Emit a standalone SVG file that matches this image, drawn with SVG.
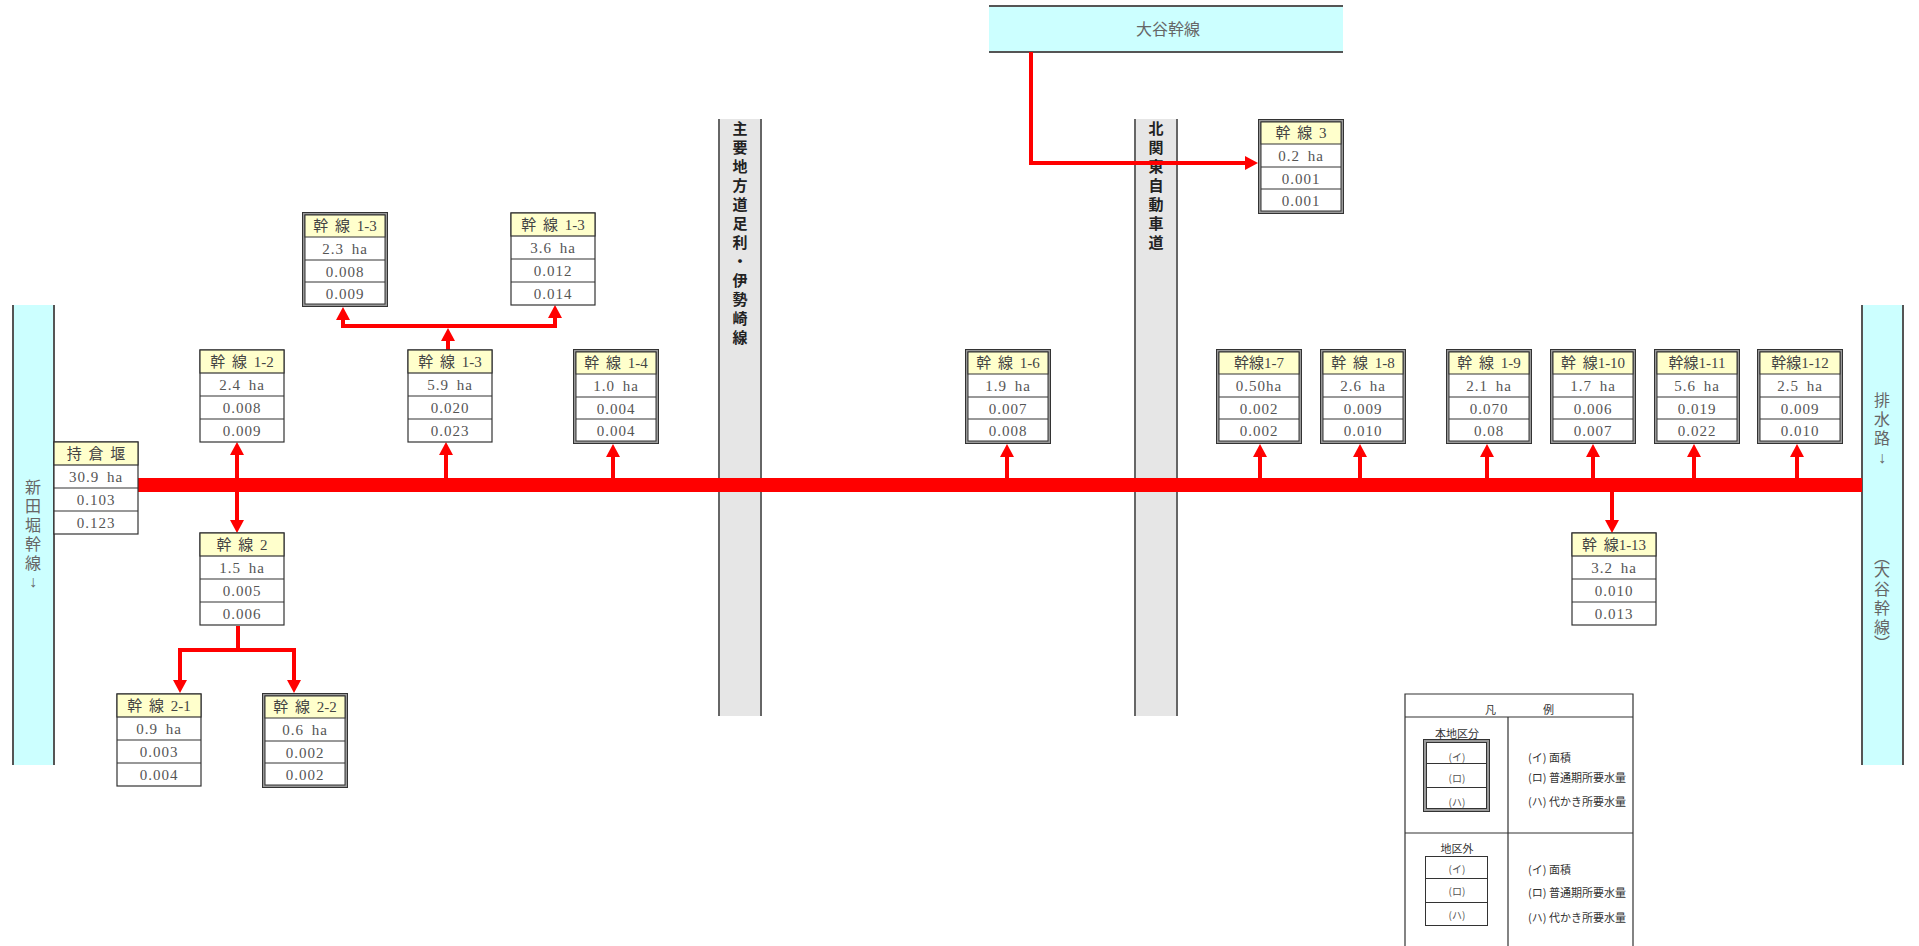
<svg xmlns="http://www.w3.org/2000/svg" xmlns:xlink="http://www.w3.org/1999/xlink" width="1919" height="946" viewBox="0 0 1919 946">
<style>
.hd{font-family:"Liberation Serif","Noto Sans CJK JP",serif;font-size:15px;fill:#444;text-anchor:middle;word-spacing:3px}
.vl{font-family:"Liberation Serif","Noto Sans CJK JP",serif;font-size:15px;fill:#555;text-anchor:middle;letter-spacing:1px;word-spacing:3px}
.ch{font-family:"Liberation Serif","Noto Sans CJK JP",serif;font-size:16px;fill:#666;text-anchor:middle}
.rd{font-family:"Noto Sans CJK JP",sans-serif;font-size:15px;font-weight:bold;fill:#222;text-anchor:middle}
.lg{font-family:"Noto Sans CJK JP",sans-serif;font-size:11px;fill:#333}
.lgc{font-family:"Noto Sans CJK JP",sans-serif;font-size:10px;fill:#555;text-anchor:middle}
.con{fill:none;stroke:#ff0000;stroke-width:4}
.arr{marker-end:url(#ah)}
</style>
<defs>
<marker id="ah" markerUnits="userSpaceOnUse" markerWidth="14" markerHeight="14" refX="3" refY="7" orient="auto">
<path d="M0,0 L13,7 L0,14 z" fill="#ff0000"/>
</marker>
<g id="sbox">
<rect x="0" y="0" width="84" height="92" fill="#fff" stroke="#333" stroke-width="1.2"/>
<rect x="0" y="0" width="84" height="23" fill="#ffffcc" stroke="#333" stroke-width="1.2"/>
<path d="M0 46H84M0 69H84" stroke="#333" stroke-width="1.2"/>
</g>
<g id="dbox">
<rect x="0.5" y="0.5" width="85" height="94" fill="#999" stroke="#333"/>
<rect x="3" y="3" width="80" height="89" fill="#fff" stroke="#333"/>
<rect x="3" y="3" width="80" height="22" fill="#ffffcc" stroke="#333"/>
<path d="M3 48H83M3 70H83" stroke="#333"/>
</g>
</defs>
<rect width="1919" height="946" fill="#fff"/>

<!-- channels -->
<g id="ch-left">
<rect x="13" y="305" width="41" height="460" fill="#ccffff"/>
<path d="M13 305V765M54 305V765" stroke="#555" stroke-width="2"/>
<text class="ch" x="33 33 33 33 33 33" y="493 512 531 550 569 587">新田堀幹線↓</text>
</g>
<g id="ch-right">
<rect x="1862" y="305" width="41" height="460" fill="#ccffff"/>
<path d="M1862 305V765M1903 305V765" stroke="#555" stroke-width="2"/>
<text class="ch" x="1882 1882 1882 1882" y="406 425 444 463">排水路↓</text>
<text class="ch" x="1882 1882 1882 1882 1882 1882" y="563 576 595 614 633 649">︵大谷幹線︶</text>
</g>
<g id="ch-top">
<rect x="989" y="6" width="354" height="46" fill="#ccffff"/>
<path d="M989 6H1343M989 52H1343" stroke="#555" stroke-width="2"/>
<text class="ch" x="1168" y="35" fill="#555">大谷幹線</text>
</g>

<!-- roads -->
<g id="road-1">
<rect x="719" y="119" width="42" height="597" fill="#e6e6e6"/>
<path d="M719 119V716M761 119V716" stroke="#666" stroke-width="2"/>
<text class="rd" x="740 740 740 740 740 740 740 740 740 740 740 740" y="134 153 172 191 210 229 248 267 286 305 324 343">主要地方道足利・伊勢崎線</text>
</g>
<g id="road-2">
<rect x="1135" y="119" width="42" height="597" fill="#e6e6e6"/>
<path d="M1135 119V716M1177 119V716" stroke="#666" stroke-width="2"/>
<text class="rd" x="1156 1156 1156 1156 1156 1156 1156" y="134 153 172 191 210 229 248">北関東自動車道</text>
</g>

<!-- connectors -->
<g id="connectors">
<path d="M138 485H1862" fill="none" stroke="#ff0000" stroke-width="14"/>
<path class="con arr" d="M237 480V452"/>
<path class="con arr" d="M237 490V523"/>
<path class="con arr" d="M446 480V452"/>
<path class="con arr" d="M613 480V454"/>
<path class="con arr" d="M448 350V338"/>
<path class="con" d="M341 326H557"/>
<path class="con arr" d="M343 326V317"/>
<path class="con arr" d="M555 326V315"/>
<path class="con" d="M238 626V650"/>
<path class="con" d="M178 650H296"/>
<path class="con arr" d="M180 650V683"/>
<path class="con arr" d="M294 650V683"/>
<path class="con arr" d="M1007 480V454"/>
<path class="con arr" d="M1031 52V163H1248"/>
<path class="con arr" d="M1260 480V454"/>
<path class="con arr" d="M1360 480V454"/>
<path class="con arr" d="M1487 480V454"/>
<path class="con arr" d="M1593 480V454"/>
<path class="con arr" d="M1694 480V454"/>
<path class="con arr" d="M1797 480V454"/>
<path class="con arr" d="M1612 490V523"/>
</g>

<!-- single boxes -->
<g id="n-mochikura" transform="translate(54 442)"><use xlink:href="#sbox"/>
<text class="hd" x="42" y="17">持 倉 堰</text><text class="vl" x="42" y="40">30.9 ha</text><text class="vl" x="42" y="63">0.103</text><text class="vl" x="42" y="86">0.123</text></g>
<g id="n-1-2" transform="translate(200 350)"><use xlink:href="#sbox"/>
<text class="hd" x="42" y="17">幹 線 1-2</text><text class="vl" x="42" y="40">2.4 ha</text><text class="vl" x="42" y="63">0.008</text><text class="vl" x="42" y="86">0.009</text></g>
<g id="n-2" transform="translate(200 533)"><use xlink:href="#sbox"/>
<text class="hd" x="42" y="17">幹 線 2</text><text class="vl" x="42" y="40">1.5 ha</text><text class="vl" x="42" y="63">0.005</text><text class="vl" x="42" y="86">0.006</text></g>
<g id="n-2-1" transform="translate(117 694)"><use xlink:href="#sbox"/>
<text class="hd" x="42" y="17">幹 線 2-1</text><text class="vl" x="42" y="40">0.9 ha</text><text class="vl" x="42" y="63">0.003</text><text class="vl" x="42" y="86">0.004</text></g>
<g id="n-1-3" transform="translate(408 350)"><use xlink:href="#sbox"/>
<text class="hd" x="42" y="17">幹 線 1-3</text><text class="vl" x="42" y="40">5.9 ha</text><text class="vl" x="42" y="63">0.020</text><text class="vl" x="42" y="86">0.023</text></g>
<g id="n-1-3b" transform="translate(511 213)"><use xlink:href="#sbox"/>
<text class="hd" x="42" y="17">幹 線 1-3</text><text class="vl" x="42" y="40">3.6 ha</text><text class="vl" x="42" y="63">0.012</text><text class="vl" x="42" y="86">0.014</text></g>
<g id="n-1-13" transform="translate(1572 533)"><use xlink:href="#sbox"/>
<text class="hd" x="42" y="17">幹 線1-13</text><text class="vl" x="42" y="40">3.2 ha</text><text class="vl" x="42" y="63">0.010</text><text class="vl" x="42" y="86">0.013</text></g>

<!-- double boxes -->
<g id="n-1-3a" transform="translate(302 212)"><use xlink:href="#dbox"/>
<text class="hd" x="43" y="19">幹 線 1-3</text><text class="vl" x="43" y="42">2.3 ha</text><text class="vl" x="43" y="65">0.008</text><text class="vl" x="43" y="87">0.009</text></g>
<g id="n-1-4" transform="translate(573 349)"><use xlink:href="#dbox"/>
<text class="hd" x="43" y="19">幹 線 1-4</text><text class="vl" x="43" y="42">1.0 ha</text><text class="vl" x="43" y="65">0.004</text><text class="vl" x="43" y="87">0.004</text></g>
<g id="n-2-2" transform="translate(262 693)"><use xlink:href="#dbox"/>
<text class="hd" x="43" y="19">幹 線 2-2</text><text class="vl" x="43" y="42">0.6 ha</text><text class="vl" x="43" y="65">0.002</text><text class="vl" x="43" y="87">0.002</text></g>
<g id="n-1-6" transform="translate(965 349)"><use xlink:href="#dbox"/>
<text class="hd" x="43" y="19">幹 線 1-6</text><text class="vl" x="43" y="42">1.9 ha</text><text class="vl" x="43" y="65">0.007</text><text class="vl" x="43" y="87">0.008</text></g>
<g id="n-3" transform="translate(1258 119)"><use xlink:href="#dbox"/>
<text class="hd" x="43" y="19">幹 線 3</text><text class="vl" x="43" y="42">0.2 ha</text><text class="vl" x="43" y="65">0.001</text><text class="vl" x="43" y="87">0.001</text></g>
<g id="n-1-7" transform="translate(1216 349)"><use xlink:href="#dbox"/>
<text class="hd" x="43" y="19">幹線1-7</text><text class="vl" x="43" y="42">0.50ha</text><text class="vl" x="43" y="65">0.002</text><text class="vl" x="43" y="87">0.002</text></g>
<g id="n-1-8" transform="translate(1320 349)"><use xlink:href="#dbox"/>
<text class="hd" x="43" y="19">幹 線 1-8</text><text class="vl" x="43" y="42">2.6 ha</text><text class="vl" x="43" y="65">0.009</text><text class="vl" x="43" y="87">0.010</text></g>
<g id="n-1-9" transform="translate(1446 349)"><use xlink:href="#dbox"/>
<text class="hd" x="43" y="19">幹 線 1-9</text><text class="vl" x="43" y="42">2.1 ha</text><text class="vl" x="43" y="65">0.070</text><text class="vl" x="43" y="87">0.08</text></g>
<g id="n-1-10" transform="translate(1550 349)"><use xlink:href="#dbox"/>
<text class="hd" x="43" y="19">幹 線1-10</text><text class="vl" x="43" y="42">1.7 ha</text><text class="vl" x="43" y="65">0.006</text><text class="vl" x="43" y="87">0.007</text></g>
<g id="n-1-11" transform="translate(1654 349)"><use xlink:href="#dbox"/>
<text class="hd" x="43" y="19">幹線1-11</text><text class="vl" x="43" y="42">5.6 ha</text><text class="vl" x="43" y="65">0.019</text><text class="vl" x="43" y="87">0.022</text></g>
<g id="n-1-12" transform="translate(1757 349)"><use xlink:href="#dbox"/>
<text class="hd" x="43" y="19">幹線1-12</text><text class="vl" x="43" y="42">2.5 ha</text><text class="vl" x="43" y="65">0.009</text><text class="vl" x="43" y="87">0.010</text></g>

<!-- legend -->
<g id="legend">
<path d="M1405 946V694H1633V946M1405 717H1633M1508 717V946M1405 833H1633" fill="none" stroke="#333" stroke-width="1.2"/>
<text class="lg" x="1485" y="714">凡</text>
<text class="lg" x="1543" y="714">例</text>
<text class="lg" x="1457" y="738" text-anchor="middle" font-size="12">本地区分</text>
<rect x="1423.5" y="739.5" width="66" height="72" fill="#999" stroke="#333"/>
<rect x="1426.5" y="742.5" width="60" height="66" fill="#fff" stroke="#333"/>
<path d="M1426.5 763.5H1486.5M1426.5 787.5H1486.5" stroke="#333"/>
<text class="lgc" x="1457" y="761">(イ)</text>
<text class="lgc" x="1457" y="782">(ロ)</text>
<text class="lgc" x="1457" y="806">(ハ)</text>
<text class="lg" x="1528" y="762">(イ) 面積</text>
<text class="lg" x="1528" y="782">(ロ) 普通期所要水量</text>
<text class="lg" x="1528" y="806">(ハ) 代かき所要水量</text>
<text class="lg" x="1457" y="853" text-anchor="middle" font-size="12">地区外</text>
<rect x="1425.5" y="856.5" width="62" height="69" fill="#fff" stroke="#333"/>
<path d="M1425.5 878.5H1487.5M1425.5 902.5H1487.5" stroke="#333"/>
<text class="lgc" x="1457" y="873">(イ)</text>
<text class="lgc" x="1457" y="895">(ロ)</text>
<text class="lgc" x="1457" y="919">(ハ)</text>
<text class="lg" x="1528" y="874">(イ) 面積</text>
<text class="lg" x="1528" y="897">(ロ) 普通期所要水量</text>
<text class="lg" x="1528" y="922">(ハ) 代かき所要水量</text>
</g>
</svg>
